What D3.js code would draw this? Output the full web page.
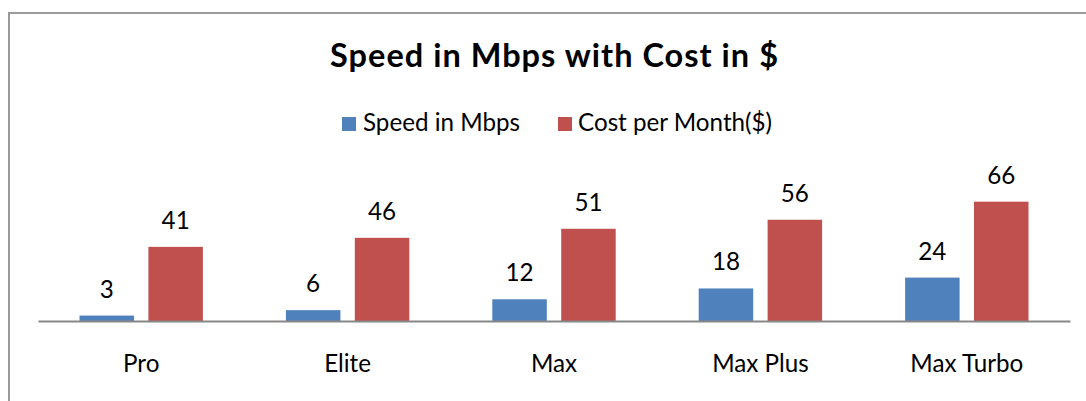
<!DOCTYPE html>
<html><head><meta charset="utf-8">
<script src="https://cdn.jsdelivr.net/npm/d3@7"></script>
<style>html,body{margin:0;padding:0;background:#fff;}svg{display:block;}</style>
</head><body>
<svg id="chart" width="1086" height="401"></svg>
<script>
const categories = ["Pro", "Elite", "Max", "Max Plus", "Max Turbo"];
const seriesNames = ["Speed in Mbps", "Cost per Month($)"];
const speed = [3, 6, 12, 18, 24];
const cost = [41, 46, 51, 56, 66];
const seriesColors = ["#4F81BD", "#C0504D"];
const titleText = "Speed in Mbps with Cost in $";

const font = "Lato, 'Open Sans', sans-serif";
const fs = "24.2px";
const svg = d3.select("#chart");

// frame
svg.append("rect").attr("x", 9).attr("y", 13).attr("width", 1200).attr("height", 500)
  .attr("fill", "none").attr("stroke", "#9a9a9a").attr("stroke-width", 2);

const plotLeft = 38, plotRight = 1070, axisY = 321;
const x0 = d3.scaleBand().domain(categories).range([plotLeft, plotRight]).paddingInner(0).paddingOuter(0);
const x1 = d3.scaleBand().domain(seriesNames).range([41.5, x0.bandwidth() - 41.5]).paddingInner(0.209).paddingOuter(0);
const y = d3.scaleLinear().domain([0, 70]).range([axisY, axisY - 70 * 1.808]);

const data = categories.map((c, i) => ({cat: c, vals: [speed[i], cost[i]]}));

const groups = svg.append("g").selectAll("g").data(data).join("g")
  .attr("transform", d => `translate(${x0(d.cat)},0)`);

groups.selectAll("rect").data(d => d.vals.map((v, k) => ({k, v}))).join("rect")
  .attr("x", d => x1(seriesNames[d.k]))
  .attr("width", x1.bandwidth())
  .attr("y", d => y(d.v))
  .attr("height", d => y(0) - y(d.v))
  .attr("fill", d => seriesColors[d.k]);

groups.selectAll("text.val").data(d => d.vals.map((v, k) => ({k, v}))).join("text")
  .attr("class", "val")
  .attr("x", d => x1(seriesNames[d.k]) + x1.bandwidth() / 2)
  .attr("y", d => y(d.v) - 18)
  .attr("text-anchor", "middle")
  .style("font-family", font).style("font-size", fs).attr("fill", "#000")
  .text(d => d.v);

// axis
const xAxis = d3.axisBottom(x0).tickSize(0).tickPadding(0);
const ag = svg.append("g").attr("transform", `translate(0,${axisY})`).call(xAxis);
ag.select(".domain").attr("stroke", "#878787").attr("stroke-width", 2);
ag.selectAll("text").attr("dy", null).attr("y", 50.7)
  .style("font-family", font).style("font-size", fs).attr("fill", "#000");

// title
svg.append("text").attr("x", 554).attr("y", 67).attr("text-anchor", "middle")
  .attr("textLength", 448).attr("lengthAdjust", "spacing")
  .style("font-family", font).style("font-size", "32.5px").style("font-weight", "bold")
  .attr("fill", "#000").text(titleText);

// legend
const legendItems = [{x: 342, tx: 363}, {x: 558, tx: 578}];
const lg = svg.append("g");
seriesNames.forEach((s, i) => {
  lg.append("rect").attr("x", legendItems[i].x).attr("y", 117).attr("width", 14).attr("height", 14)
    .attr("fill", seriesColors[i]);
  lg.append("text").attr("x", legendItems[i].tx).attr("y", 131)
    .style("font-family", font).style("font-size", fs).attr("fill", "#000").text(s);
});
</script>
</body></html>
